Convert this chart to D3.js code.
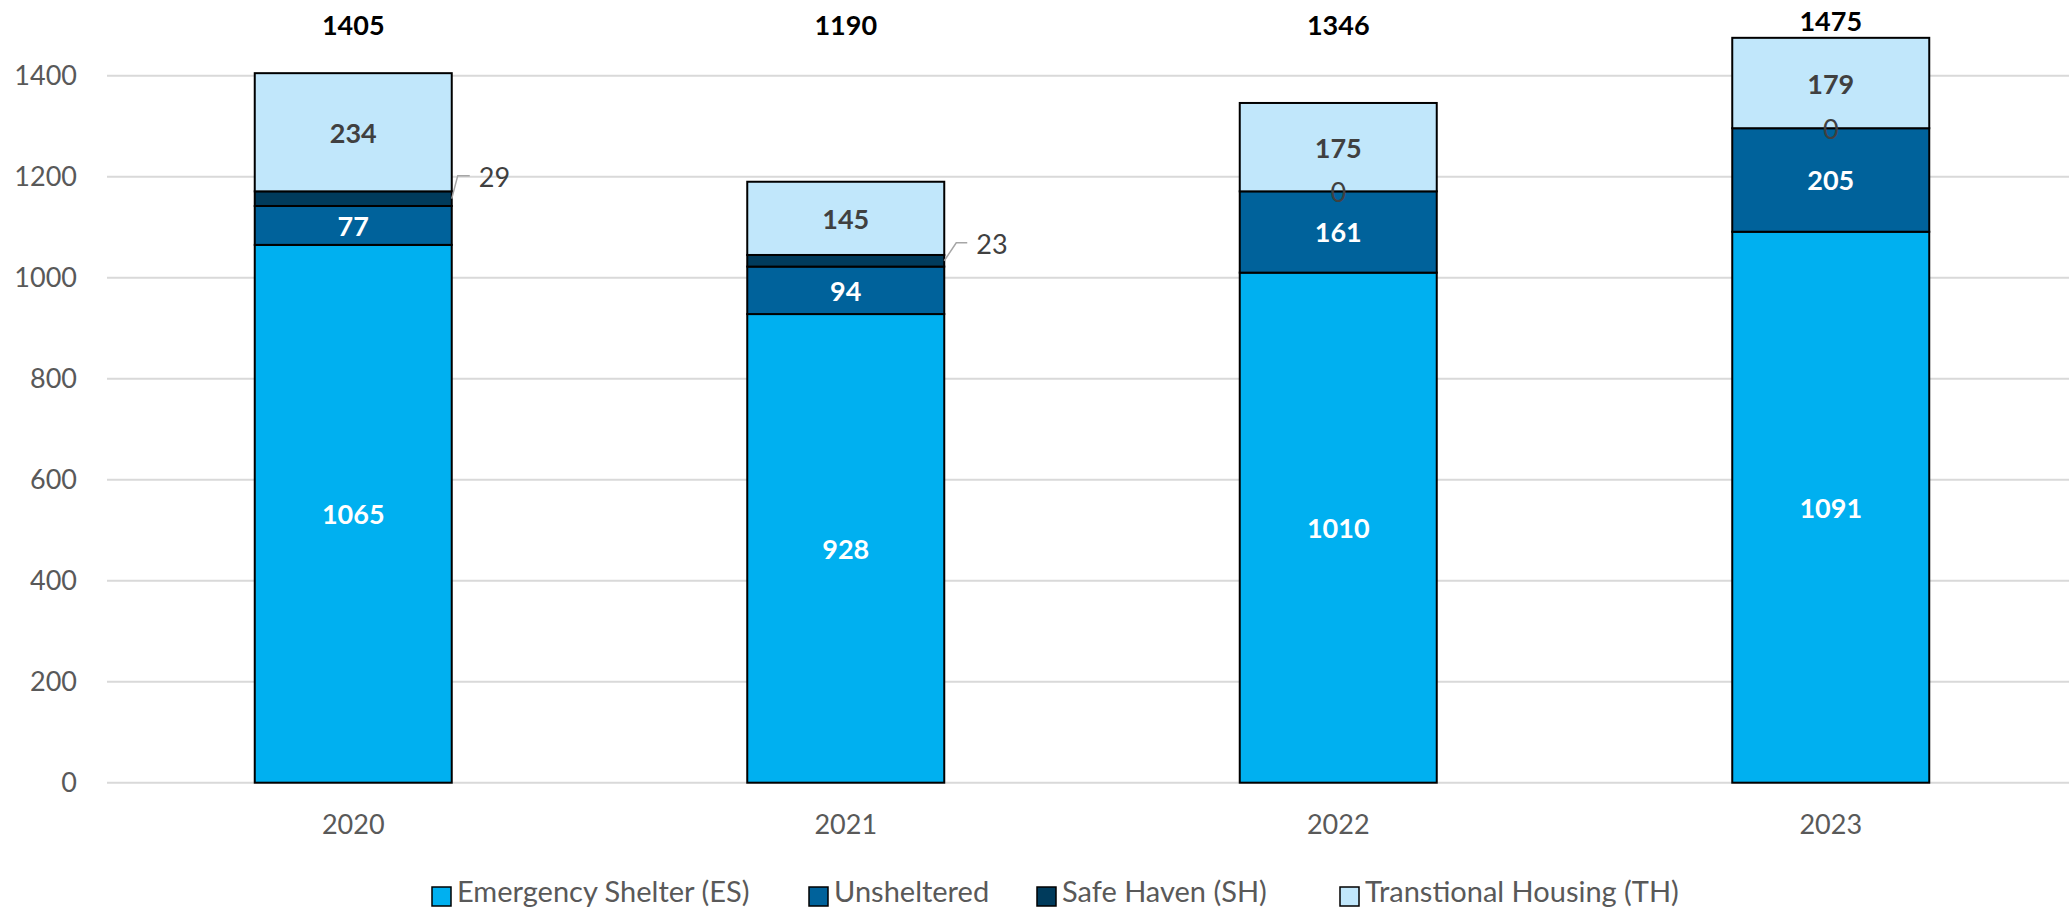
<!DOCTYPE html>
<html>
<head>
<meta charset="utf-8">
<script src="https://cdn.jsdelivr.net/npm/d3@7"></script>
<style>
  html, body { margin: 0; padding: 0; background: #fff; }
  svg { display: block; }
  text { font-family: Lato, "Open Sans", sans-serif; }
</style>
</head>
<body>
<svg id="chart" width="2069" height="909"></svg>
<script>
// ---- data ----
const years = ["2020", "2021", "2022", "2023"];
const seriesNames = ["Emergency Shelter (ES)", "Unsheltered", "Safe Haven (SH)", "Transtional Housing (TH)"];
const emergencyShelter = [1065, 928, 1010, 1091];
const unsheltered = [77, 94, 161, 205];
const safeHaven = [29, 23, 0, 0];
const transitionalHousing = [234, 145, 175, 179];
const yTicks = [0, 200, 400, 600, 800, 1000, 1200, 1400];

const colors = ["#00B0F0", "#00629B", "#003B5C", "#C1E7FB"];
const labelColors = ["#FFFFFF", "#FFFFFF", "#404040", "#404040"];

const W = 2069, H = 909;
const svg = d3.select("#chart");

const x = d3.scaleBand().domain(years).range([107, 2077]).paddingInner(0.6).paddingOuter(0.3);
const y = d3.scaleLinear().domain([0, 1400]).range([782.7, 75.7]);

const rows = years.map((yr, i) => ({
  year: yr,
  es: emergencyShelter[i], u: unsheltered[i], sh: safeHaven[i], th: transitionalHousing[i]
}));
const keys = ["es", "u", "sh", "th"];
const stacked = d3.stack().keys(keys)(rows);

// gridlines
svg.append("g").selectAll("line").data(yTicks).join("line")
  .attr("x1", 107).attr("x2", W)
  .attr("y1", d => y(d)).attr("y2", d => y(d))
  .attr("stroke", "#D9D9D9").attr("stroke-width", 2);

// y axis labels
const yAxis = d3.axisLeft(y).tickValues(yTicks).tickSize(0).tickPadding(0).tickFormat(d3.format("d"));
const gy = svg.append("g").attr("transform", "translate(77,0)").call(yAxis);
gy.select(".domain").remove();
gy.selectAll("text").attr("font-size", 27).attr("fill", "#595959")
  .style("font-family", "Lato, sans-serif");

// x axis labels
const xAxis = d3.axisBottom(x).tickSize(0).tickPadding(0);
const gx = svg.append("g").attr("transform", "translate(0,815)").call(xAxis);
gx.select(".domain").remove();
gx.selectAll("text").attr("font-size", 27).attr("fill", "#595959")
  .style("font-family", "Lato, sans-serif");

// bars
const layers = svg.append("g").selectAll("g").data(stacked).join("g")
  .attr("fill", (d, i) => colors[i]);
layers.selectAll("rect").data(d => d).join("rect")
  .attr("x", d => x(d.data.year))
  .attr("width", x.bandwidth())
  .attr("y", d => y(d[1]))
  .attr("height", d => y(d[0]) - y(d[1]))
  .attr("stroke", "#000").attr("stroke-width", 2);

// leader-line offsets for the small Safe Haven labels (style only)
const leader = [
  { dx: 6, dy: -23, hx: 18, tx: 27 },
  { dx: 12, dy: -18, hx: 23, tx: 32 }
];

// segment labels
stacked.forEach((layer, li) => {
  layer.forEach((d, di) => {
    const v = d[1] - d[0];
    const cx = x(d.data.year) + x.bandwidth() / 2;
    const cy = y((d[0] + d[1]) / 2);
    if (li === 2) {
      if (v === 0) {
        svg.append("text").attr("x", cx).attr("y", cy)
          .attr("text-anchor", "middle").attr("dominant-baseline", "central")
          .attr("font-size", 27).attr("fill", "#404040").text(v);
      } else {
        const o = leader[di] || leader[0];
        const x0 = x(d.data.year) + x.bandwidth();
        svg.append("path")
          .attr("d", `M${x0},${cy} L${x0 + o.dx},${cy + o.dy} L${x0 + o.hx},${cy + o.dy}`)
          .attr("fill", "none").attr("stroke", "#A6A6A6").attr("stroke-width", 1.5);
        svg.append("text").attr("x", x0 + o.tx).attr("y", cy + o.dy + 1)
          .attr("dominant-baseline", "central")
          .attr("font-size", 27).attr("fill", "#404040").text(v);
      }
    } else {
      svg.append("text").attr("x", cx).attr("y", cy)
        .attr("text-anchor", "middle").attr("dominant-baseline", "central")
        .attr("font-size", 27).attr("font-weight", "bold")
        .attr("fill", labelColors[li]).text(v);
    }
  });
});

// totals
rows.forEach(r => {
  const tot = r.es + r.u + r.sh + r.th;
  svg.append("text")
    .attr("x", x(r.year) + x.bandwidth() / 2)
    .attr("y", Math.min(24, y(tot) - 17))
    .attr("text-anchor", "middle").attr("dominant-baseline", "central")
    .attr("font-size", 27).attr("font-weight", "bold").attr("fill", "#000")
    .text(tot);
});

// legend
const legendX = [432, 809, 1037, 1340];
const lg = svg.append("g");
seriesNames.forEach((name, i) => {
  lg.append("rect").attr("x", legendX[i]).attr("y", 887).attr("width", 19).attr("height", 19)
    .attr("fill", colors[i]).attr("stroke", "#000").attr("stroke-width", 1.5);
  lg.append("text").attr("x", legendX[i] + 25).attr("y", 902)
    .attr("font-size", 29).attr("fill", "#595959").text(name);
});
</script>
</body>
</html>
